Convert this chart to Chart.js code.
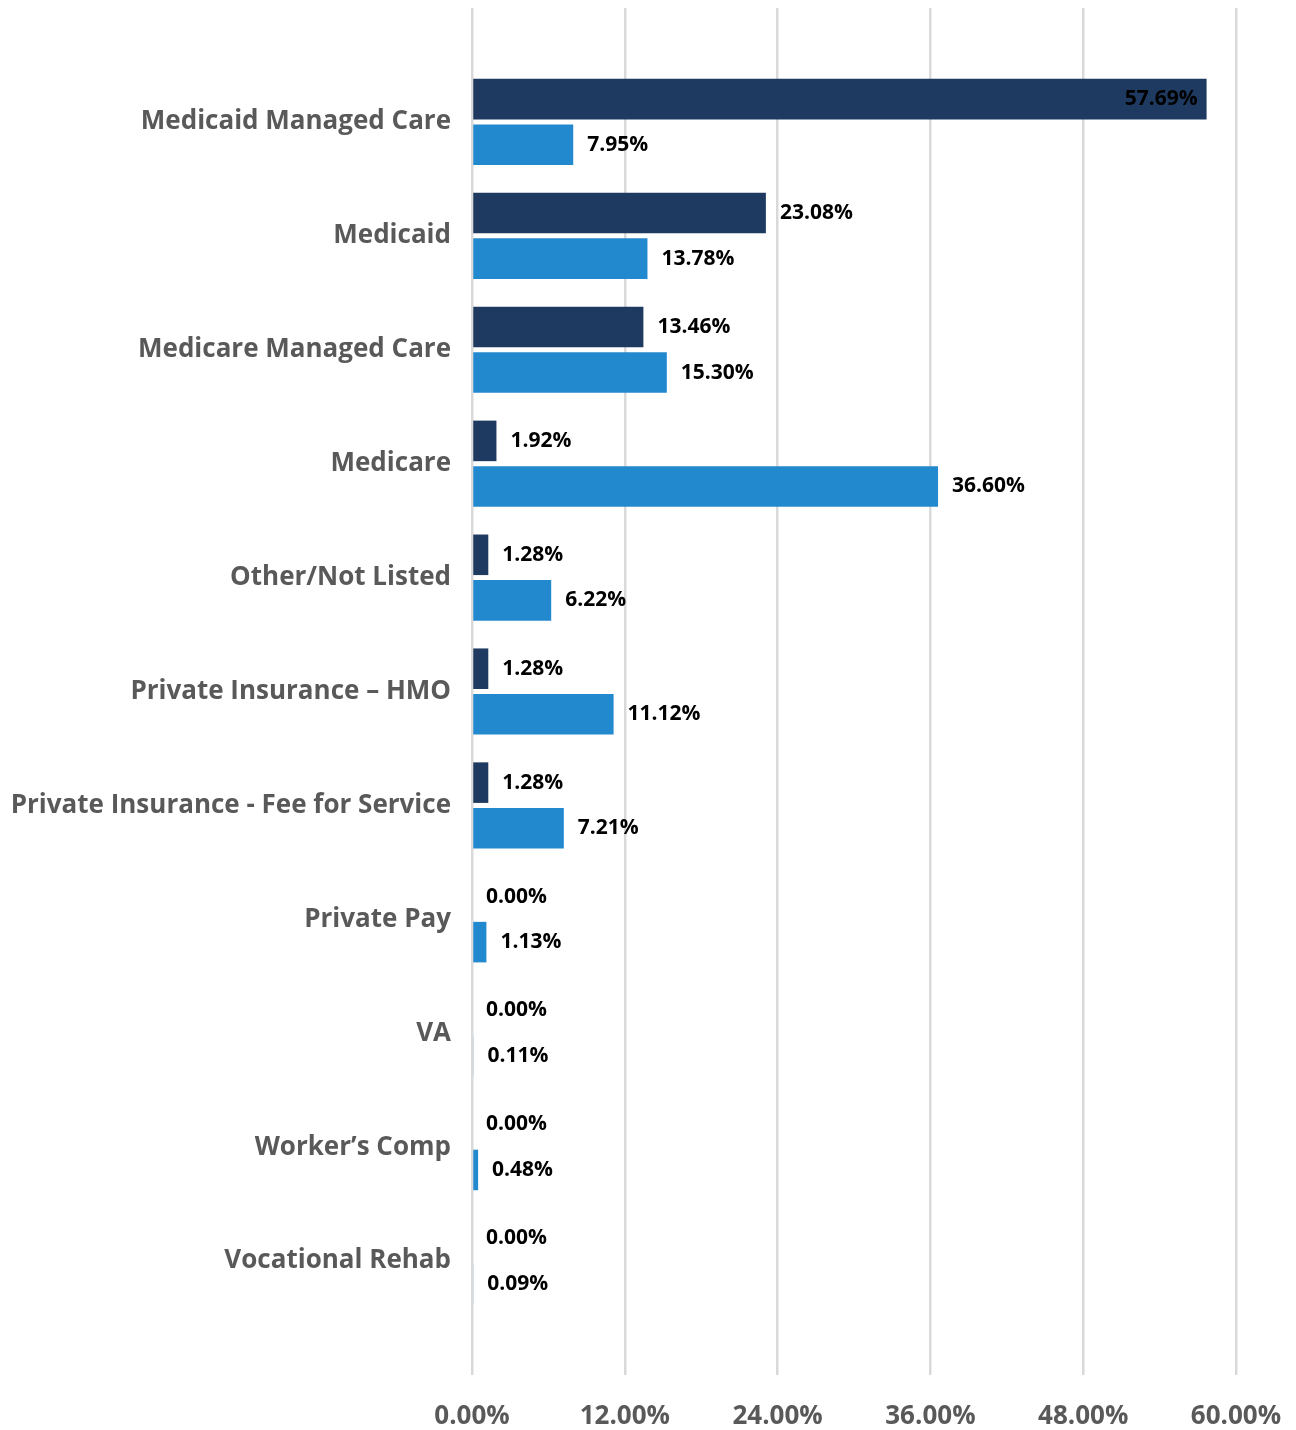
<!DOCTYPE html>
<html>
<head>
<meta charset="utf-8">
<script src="https://cdn.jsdelivr.net/npm/chart.js@4"></script>
<style>
  html, body { margin: 0; padding: 0; background: #ffffff; }
  #wrap { width: 1296px; height: 1430px; }
</style>
</head>
<body>
<div id="wrap"><canvas id="c" width="1296" height="1430"></canvas></div>
<script>
const categories = [
  "Medicaid Managed Care",
  "Medicaid",
  "Medicare Managed Care",
  "Medicare",
  "Other/Not Listed",
  "Private Insurance \u2013 HMO",
  "Private Insurance - Fee for Service",
  "Private Pay",
  "VA",
  "Worker\u2019s Comp",
  "Vocational Rehab"
];
const seriesDark = [57.69, 23.08, 13.46, 1.92, 1.28, 1.28, 1.28, 0.00, 0.00, 0.00, 0.00];
const seriesLight = [7.95, 13.78, 15.30, 36.60, 6.22, 11.12, 7.21, 1.13, 0.11, 0.48, 0.09];
const xTicks = [0, 12, 24, 36, 48, 60];

// pad one empty slot at each end so grid lines extend beyond the bars
const labels = [""].concat(categories, [""]);
const pad = arr => [null].concat(arr, [null]);

const valueLabels = {
  id: 'valueLabels',
  afterDatasetsDraw(chart) {
    const ctx = chart.ctx;
    const right = chart.chartArea.right;
    ctx.save();
    ctx.font = 'bold 21px "Open Sans"';
    ctx.fillStyle = '#000000';
    ctx.textBaseline = 'middle';
    chart.data.datasets.forEach((ds, di) => {
      const meta = chart.getDatasetMeta(di);
      meta.data.forEach((el, i) => {
        const v = ds.data[i];
        if (v === null || v === undefined) return;
        const txt = v.toFixed(2) + '%';
        const w = ctx.measureText(txt).width;
        if (el.x + 14 + w > right - 5) {
          ctx.textAlign = 'right';
          ctx.fillText(txt, el.x - 9, el.y);
        } else {
          ctx.textAlign = 'left';
          ctx.fillText(txt, el.x + 14, el.y);
        }
      });
    });
    ctx.restore();
  }
};

new Chart(document.getElementById('c'), {
  type: 'bar',
  data: {
    labels: labels,
    datasets: [
      {
        label: 'Series 1',
        data: pad(seriesDark),
        backgroundColor: '#1F3A60',
        categoryPercentage: 0.8,
        barPercentage: 0.89
      },
      {
        label: 'Series 2',
        data: pad(seriesLight),
        backgroundColor: '#2389CF',
        categoryPercentage: 0.8,
        barPercentage: 0.89
      }
    ]
  },
  options: {
    indexAxis: 'y',
    responsive: false,
    animation: false,
    layout: { padding: { top: 8, left: 0, right: 60, bottom: 0 } },
    plugins: {
      legend: { display: false },
      tooltip: { enabled: false }
    },
    scales: {
      x: {
        type: 'linear',
        position: 'bottom',
        min: 0,
        max: 60,
        afterBuildTicks(scale) {
          scale.ticks = xTicks.map(v => ({ value: v }));
        },
        afterFit(scale) {
          scale.height = 55;
          scale.paddingLeft = 0;
          scale.paddingRight = 0;
        },
        grid: {
          color: '#D9D9D9',
          lineWidth: 2.5,
          drawTicks: false
        },
        border: { display: false },
        ticks: {
          padding: 26,
          color: '#595959',
          font: { family: '"Open Sans"', size: 26, weight: 'bold' },
          callback: v => Number(v).toFixed(2) + '%'
        }
      },
      y: {
        type: 'category',
        offset: false,
        afterFit(scale) {
          scale.width = 472;
          scale.paddingTop = 0;
          scale.paddingBottom = 0;
        },
        grid: { display: false, drawTicks: false },
        border: { display: false },
        ticks: {
          padding: 21,
          color: '#595959',
          autoSkip: false,
          font: { family: '"Open Sans"', size: 26, weight: 'bold' }
        }
      }
    }
  },
  plugins: [valueLabels]
});
</script>
</body>
</html>
